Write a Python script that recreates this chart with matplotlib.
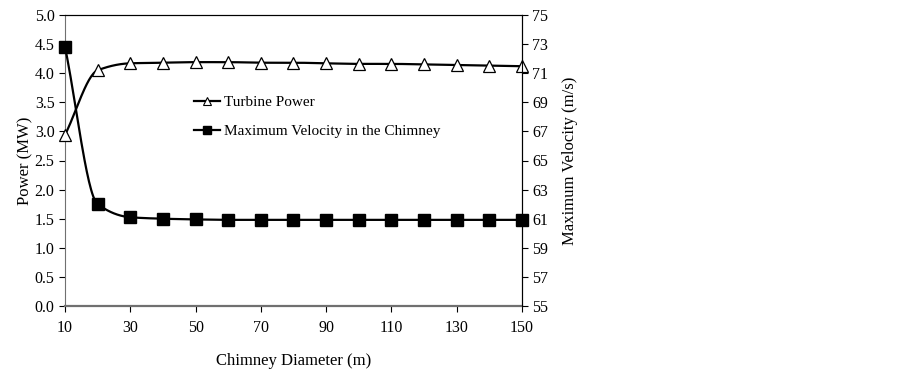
import numpy as np
import matplotlib
matplotlib.use("Agg")
import matplotlib.pyplot as plt
from matplotlib.lines import Line2D

plt.rcParams['font.family'] = ['Liberation Serif', 'DejaVu Serif']

diameter = [10, 20, 30, 40, 50, 60, 70, 80, 90, 100, 110, 120, 130, 140, 150]
turbine_power = [2.94, 4.05, 4.17, 4.18, 4.19, 4.19, 4.18, 4.18, 4.17, 4.16, 4.16, 4.15, 4.14, 4.13, 4.12]
max_velocity = [72.8, 62.0, 61.1, 61.0, 60.95, 60.92, 60.92, 60.92, 60.92, 60.92, 60.92, 60.92, 60.92, 60.92, 60.92]
x_ticks = [10, 30, 50, 70, 90, 110, 130, 150]
left_ticks = [0.0, 0.5, 1.0, 1.5, 2.0, 2.5, 3.0, 3.5, 4.0, 4.5, 5.0]
right_ticks = [55, 57, 59, 61, 63, 65, 67, 69, 71, 73, 75]


def smooth(x, y, n=30):
    # monotone cubic (Fritsch-Carlson) smoothing of the line between data points
    x = np.asarray(x, float)
    y = np.asarray(y, float)
    h = np.diff(x)
    d = np.diff(y) / h
    m = np.zeros_like(y)
    m[0], m[-1] = d[0], d[-1]
    for k in range(1, len(x) - 1):
        if d[k - 1] * d[k] <= 0:
            m[k] = 0.0
        else:
            w1 = 2 * h[k] + h[k - 1]
            w2 = h[k] + 2 * h[k - 1]
            m[k] = (w1 + w2) / (w1 / d[k - 1] + w2 / d[k])
    xs, ys = [], []
    for k in range(len(x) - 1):
        t = np.linspace(0, 1, n, endpoint=(k == len(x) - 2))
        h00 = 2 * t ** 3 - 3 * t ** 2 + 1
        h10 = t ** 3 - 2 * t ** 2 + t
        h01 = -2 * t ** 3 + 3 * t ** 2
        h11 = t ** 3 - t ** 2
        xs.extend(x[k] + t * h[k])
        ys.extend(h00 * y[k] + h10 * h[k] * m[k] + h01 * y[k + 1] + h11 * h[k] * m[k + 1])
    return np.array(xs), np.array(ys)


fig = plt.figure(figsize=(9.03, 3.75), dpi=100)
ax = fig.add_axes([0.072, 0.184, 0.506, 0.776])
ax2 = ax.twinx()

sx, sy = smooth(diameter, turbine_power)
ax.plot(sx, sy, color='black', lw=1.6, zorder=2)
ax.plot(diameter, turbine_power, ls='none', marker='^', ms=9, mfc='white', mec='black', mew=0.9, zorder=3,
        clip_on=False)

vx, vy = smooth(diameter, max_velocity)
ax2.plot(vx, vy, color='black', lw=1.6, zorder=2)
ax2.plot(diameter, max_velocity, ls='none', marker='s', ms=8.5, mfc='black', mec='black', zorder=3, clip_on=False)

ax.set_xlim(10, 150)
ax.set_ylim(0, 5)
ax2.set_ylim(55, 75)
ax.set_xticks(x_ticks)
ax.set_yticks(left_ticks)
ax.set_yticklabels([f"{v:.1f}" for v in left_ticks])
ax2.set_yticks(right_ticks)

for a in (ax, ax2):
    a.tick_params(direction='out', length=4, width=0.8, labelsize=11.5, colors='black')
ax.tick_params(axis='x', pad=6)

for s in ax.spines.values():
    s.set_linewidth(0.8)
ax.spines['bottom'].set_color('#707070')
ax.spines['bottom'].set_linewidth(1.6)
ax.spines['left'].set_color('#707070')
for s in ax2.spines.values():
    s.set_linewidth(0.8)
ax2.spines['bottom'].set_visible(False)
ax2.spines['left'].set_visible(False)

ax.set_xlabel('Chimney Diameter (m)', fontsize=12, labelpad=12)
ax.set_ylabel('Power (MW)', fontsize=12, labelpad=1)
ax2.set_ylabel('Maximum Velocity (m/s)', fontsize=12, labelpad=10)

handles = [
    Line2D([], [], color='black', lw=1.6, marker='^', ms=6, mfc='white', mec='black', mew=0.8),
    Line2D([], [], color='black', lw=1.6, marker='s', ms=6, mfc='black', mec='black'),
]
ax.legend(handles, ['Turbine Power', 'Maximum Velocity in the Chimney'],
          loc='upper left', bbox_to_anchor=(0.27, 0.745), frameon=False,
          fontsize=11, handlelength=1.7, handletextpad=0.2, labelspacing=1.0,
          borderaxespad=0)

fig.savefig('out.png', dpi=100)
